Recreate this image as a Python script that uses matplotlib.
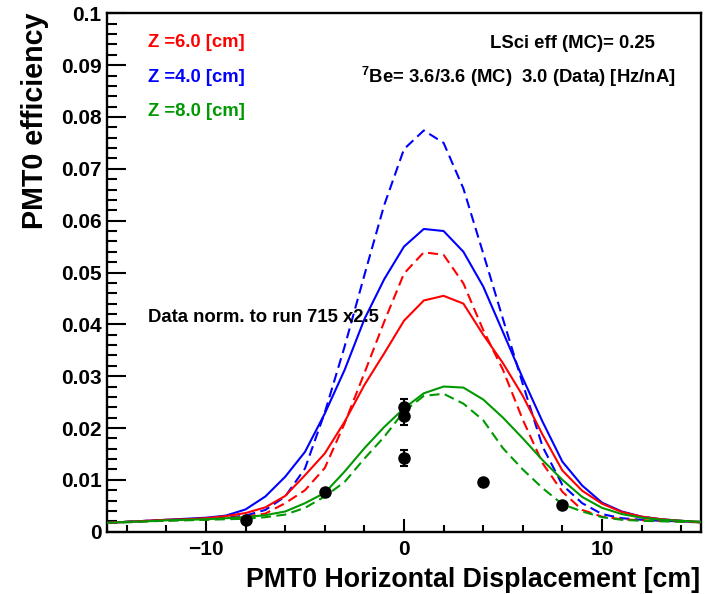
import matplotlib
matplotlib.use("Agg")
import matplotlib.pyplot as plt
from matplotlib.ticker import MultipleLocator

plt.rcParams['font.family'] = ['Liberation Sans', 'DejaVu Sans']
plt.rcParams['font.weight'] = 'bold'
plt.rcParams['mathtext.fontset'] = 'custom'
plt.rcParams['mathtext.rm'] = 'Liberation Sans:bold'
plt.rcParams['mathtext.it'] = 'Liberation Sans:bold'
plt.rcParams['mathtext.bf'] = 'Liberation Sans:bold'

# ---- data ----
x_pos = list(range(-15, 16))

z4_solid = [0.0017, 0.0019, 0.0021, 0.0023, 0.0025, 0.0027, 0.0031, 0.0043, 0.0068, 0.0106,
            0.0154, 0.0228, 0.0312, 0.0410, 0.0487, 0.0550, 0.0584, 0.0580, 0.0540, 0.0473,
            0.0385, 0.0296, 0.0212, 0.0135, 0.0089, 0.0056, 0.0039, 0.0029, 0.0024, 0.0021, 0.0018]
z4_dashed = [0.0017, 0.0019, 0.0021, 0.0022, 0.0024, 0.0025, 0.0027, 0.0031, 0.0042, 0.0068,
             0.0122, 0.0230, 0.0357, 0.0495, 0.0630, 0.0738, 0.0774, 0.0750, 0.0662, 0.0537,
             0.0410, 0.0285, 0.0164, 0.0090, 0.0055, 0.0034, 0.0026, 0.0023, 0.0021, 0.0020, 0.0019]
z6_solid = [0.0017, 0.0019, 0.0021, 0.0023, 0.0024, 0.0026, 0.0030, 0.0036, 0.0047, 0.0069,
            0.0109, 0.0151, 0.0212, 0.0283, 0.0344, 0.0407, 0.0446, 0.0455, 0.0440, 0.0380,
            0.0325, 0.0262, 0.0187, 0.0118, 0.0079, 0.0054, 0.0038, 0.0029, 0.0024, 0.0021, 0.0018]
z6_dashed = [0.0017, 0.0019, 0.0020, 0.0022, 0.0023, 0.0024, 0.0026, 0.0029, 0.0035, 0.0055,
             0.0080, 0.0123, 0.0209, 0.0306, 0.0405, 0.0498, 0.0539, 0.0534, 0.0479, 0.0389,
             0.0312, 0.0216, 0.0132, 0.0077, 0.0042, 0.0029, 0.0024, 0.0022, 0.0021, 0.0020, 0.0019]
z8_solid = [0.0017, 0.0019, 0.0020, 0.0022, 0.0023, 0.0024, 0.0026, 0.0028, 0.0032, 0.0039,
            0.0055, 0.0075, 0.0116, 0.0161, 0.0202, 0.0238, 0.0267, 0.0280, 0.0278, 0.0255,
            0.0220, 0.0180, 0.0138, 0.0100, 0.0067, 0.0046, 0.0034, 0.0027, 0.0023, 0.0021, 0.0019]
z8_dashed = [0.0017, 0.0018, 0.0020, 0.0021, 0.0022, 0.0023, 0.0024, 0.0025, 0.0028, 0.0033,
             0.0046, 0.0068, 0.0096, 0.0141, 0.0183, 0.0232, 0.0262, 0.0266, 0.0247, 0.0215,
             0.0161, 0.0120, 0.0084, 0.0053, 0.0039, 0.0028, 0.0023, 0.0021, 0.0020, 0.0019, 0.0018]

data_x = [-8, -4, 0, 0, 0, 4, 8]
data_y = [0.0023, 0.0077, 0.0240, 0.0223, 0.0142, 0.0095, 0.0051]
data_err = [0.0003, 0.0003, 0.0016, 0.0018, 0.0016, 0.0003, 0.0003]

x_ticks = [-10, 0, 10]
x_ticklabels = ['\u221210', '0', '10']
y_ticks = [0, 0.01, 0.02, 0.03, 0.04, 0.05, 0.06, 0.07, 0.08, 0.09, 0.1]
y_ticklabels = ['0', '0.01', '0.02', '0.03', '0.04', '0.05', '0.06', '0.07', '0.08', '0.09', '0.1']

z_labels = ['Z =6.0 [cm]', 'Z =4.0 [cm]', 'Z =8.0 [cm]']

RED = '#ff0000'
BLUE = '#0000ff'
GREEN = '#009900'

fig = plt.figure(figsize=(7.08, 5.94), dpi=100)
ax = fig.add_axes([107/708, 1 - 531.7/594, (701 - 107)/708, (531.7 - 13.3)/594])

lw = 1.5
dash = (4.8, 2.6)
ax.plot(x_pos, z4_dashed, color=BLUE, lw=lw, dashes=dash, zorder=3)
ax.plot(x_pos, z6_dashed, color=RED, lw=lw, dashes=dash, zorder=3)
ax.plot(x_pos, z8_dashed, color=GREEN, lw=lw, dashes=dash, zorder=3)
ax.plot(x_pos, z4_solid, color=BLUE, lw=lw, zorder=3)
ax.plot(x_pos, z6_solid, color=RED, lw=lw, zorder=3)
ax.plot(x_pos, z8_solid, color=GREEN, lw=lw, zorder=3)

ax.errorbar(data_x, data_y, yerr=data_err, fmt='o', color='black', ms=8, elinewidth=1.5,
            capsize=3, capthick=1.5, zorder=5)

ax.set_xlim(-15, 15)
ax.set_ylim(0, 0.1)
ax.set_xticks(x_ticks)
ax.set_xticklabels(x_ticklabels)
ax.set_yticks(y_ticks)
ax.set_yticklabels(y_ticklabels)
ax.xaxis.set_minor_locator(MultipleLocator(2))
ax.yaxis.set_minor_locator(MultipleLocator(0.002))
ax.tick_params(axis='both', which='both', direction='in', width=1.5, labelsize=15)
ax.tick_params(axis='x', which='major', length=9.5, pad=6)
ax.tick_params(axis='x', which='minor', length=4.7)
ax.tick_params(axis='y', which='major', length=13.5, pad=4)
ax.tick_params(axis='y', which='minor', length=7)
for s in ax.spines.values():
    s.set_linewidth(1.7)

tfs = 13.3
for t, c, yy in zip(z_labels, [RED, BLUE, GREEN], [42.5, 77.5, 111]):
    fig.text(148/708, 1 - yy/594, t, color=c, fontsize=tfs,
             fontweight='bold', va='center', ha='left')
fig.text(490/708, 1 - 43/594, 'LSci eff (MC)= 0.25', fontsize=tfs, fontweight='bold',
         va='center', ha='left')
fig.text(361/708, 1 - 77/594, r'$^{7}$Be= 3.6/3.6 (MC)  3.0 (Data) [Hz/nA]', fontsize=tfs,
         fontweight='bold', va='center', ha='left')
fig.text(148/708, 1 - 318/594, 'Data norm. to run 715 x2.5', fontsize=tfs, fontweight='bold',
         va='center', ha='left', zorder=1)

fig.text(700/708, 1 - 587/594, 'PMT0 Horizontal Displacement [cm]', fontsize=19.3,
         fontweight='bold', ha='right', va='baseline')
fig.text(43/708, 1 - 13/594, 'PMT0 efficiency', fontsize=20.6, fontweight='bold',
         rotation=90, rotation_mode='anchor', ha='right', va='baseline')

fig.savefig('out.png', dpi=100)
